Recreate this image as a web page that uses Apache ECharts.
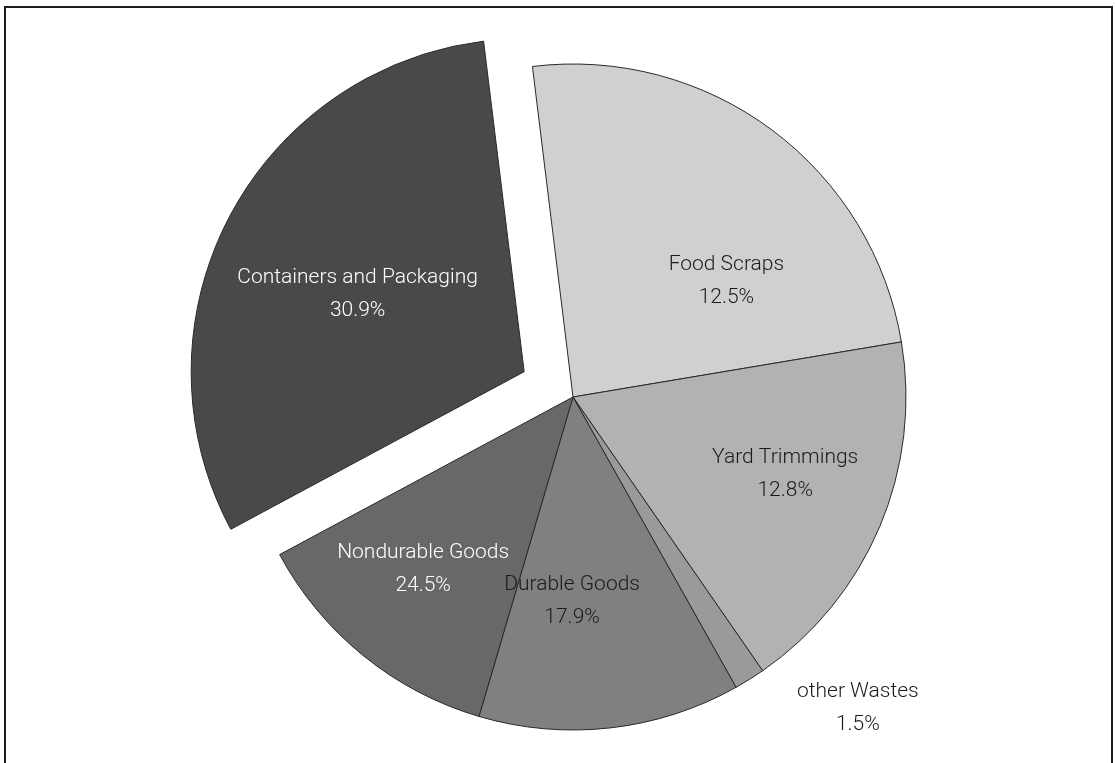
<!DOCTYPE html>
<html>
<head>
<meta charset="utf-8">
<script src="https://cdn.jsdelivr.net/npm/echarts@6/dist/echarts.min.js"></script>
<style>
  html, body { margin: 0; padding: 0; background: #fff; }
  #main { width: 1115px; height: 763px; }
</style>
</head>
<body>
<div id="main"></div>
<script>
// slice order is clockwise starting from the top (Food Scraps)
var categories = ['Food Scraps', 'Yard Trimmings', 'other Wastes', 'Durable Goods', 'Nondurable Goods', 'Containers and Packaging'];
// slice sizes as drawn in the picture (angles measured)
var sliceValues = [24.3, 18.0, 1.5, 12.7, 12.6, 30.9];
// percentage text printed on each slice (as written in the original)
var labelPercents = ['12.5%', '12.8%', '1.5%', '17.9%', '24.5%', '30.9%'];

var sliceColors = ['#d0d0d0', '#b2b2b2', '#9a9a9a', '#808080', '#686868', '#494949'];
var labelColors = ['#1a1a1a', '#1a1a1a', '#1a1a1a', '#1a1a1a', '#ffffff', '#ffffff'];
// nudges from the default inside position
var labelShift = [[52, 20], [56, 11], [195, 168], [-20, 36], [-43, 41], [-16, 0]];

var chart = echarts.init(document.getElementById('main'));

var pieData = categories.map(function (name, i) {
  return {
    name: name,
    value: sliceValues[i],
    selected: name === 'Containers and Packaging',
    itemStyle: { color: sliceColors[i] },
    label: { color: labelColors[i] }
  };
});

var option = {
  animation: false,
  backgroundColor: '#ffffff',
  graphic: [{
    type: 'rect',
    shape: { x: 5, y: 7, width: 1107, height: 800 },
    style: { fill: 'none', stroke: '#1e1e1e', lineWidth: 2 },
    silent: true
  }],
  series: [{
    type: 'pie',
    center: [573, 397],
    radius: 333,
    startAngle: 97,
    clockwise: true,
    selectedMode: 'single',
    selectedOffset: 55,
    avoidLabelOverlap: false,
    itemStyle: {
      borderColor: '#2a2a2a',
      borderWidth: 1
    },
    emphasis: { disabled: true },
    select: {
      itemStyle: { borderColor: '#2a2a2a', borderWidth: 1 }
    },
    label: {
      show: true,
      position: 'inside',
      fontFamily: 'Roboto',
      fontWeight: 300,
      fontSize: 21,
      lineHeight: 33,
      formatter: function (p) {
        return p.name + '\n' + labelPercents[p.dataIndex];
      }
    },
    labelLine: { show: false },
    labelLayout: function (p) {
      var s = labelShift[p.dataIndex];
      return { dx: s[0], dy: s[1] };
    },
    data: pieData
  }]
};

chart.setOption(option);
</script>
</body>
</html>
